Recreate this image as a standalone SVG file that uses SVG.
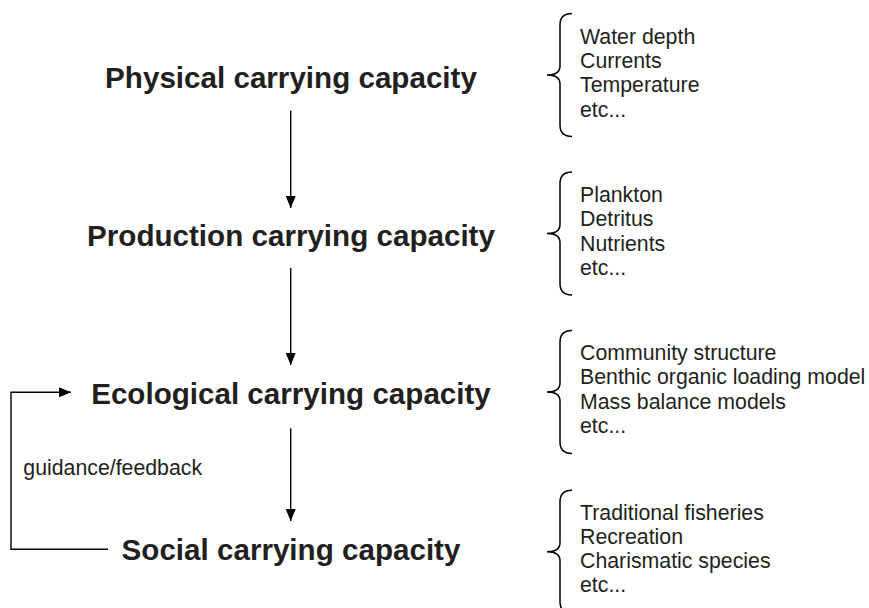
<svg xmlns="http://www.w3.org/2000/svg" xmlns:xlink="http://www.w3.org/1999/xlink" width="869" height="608" viewBox="0 0 869 608">
<style>
.title{font-family:"Liberation Sans",Arial,sans-serif;font-weight:bold;font-size:29.6px;fill:#231f20;text-anchor:middle}
.item{font-family:"Liberation Sans",Arial,sans-serif;font-size:21.3px;fill:#231f20}
.line{fill:none;stroke:#000;stroke-width:1.4}
.brace{fill:none;stroke:#000;stroke-width:1.5}
</style>
<defs>
<marker id="ah" markerWidth="12" markerHeight="10" refX="12" refY="5" orient="auto" markerUnits="userSpaceOnUse">
<path d="M0,0 L12,5 L0,10 Z" fill="#000"/>
</marker>
<path id="br" class="brace" d="M25,-61.5 Q13,-61.5 13,-50 L13,-9 Q13,0 0,0 Q13,0 13,9 L13,50 Q13,61.5 25,61.5"/>
</defs>
<rect width="869" height="608" fill="#fff"/>
<g id="connectors">
<line class="line" x1="290.7" y1="110.7" x2="290.7" y2="208" marker-end="url(#ah)"/>
<line class="line" x1="290.7" y1="268" x2="290.7" y2="365" marker-end="url(#ah)"/>
<line class="line" x1="290.7" y1="428.3" x2="290.7" y2="521" marker-end="url(#ah)"/>
<polyline class="line" points="108,549.3 11,549.3 11,392.3 71,392.3" marker-end="url(#ah)"/>
<text class="item" x="23.3" y="475">guidance/feedback</text>
</g>
<g id="physical">
<text class="title" x="291" y="88">Physical carrying capacity</text>
<use xlink:href="#br" x="547" y="75"/>
<text class="item" x="580" y="43.5">Water depth</text>
<text class="item" x="580" y="68">Currents</text>
<text class="item" x="580" y="92.3">Temperature</text>
<text class="item" x="580" y="116.7">etc...</text>
</g>
<g id="production">
<text class="title" x="291" y="245.5">Production carrying capacity</text>
<use xlink:href="#br" x="547" y="233.5"/>
<text class="item" x="580" y="201.8">Plankton</text>
<text class="item" x="580" y="226.2">Detritus</text>
<text class="item" x="580" y="250.6">Nutrients</text>
<text class="item" x="580" y="275">etc...</text>
</g>
<g id="ecological">
<text class="title" x="291" y="404">Ecological carrying capacity</text>
<use xlink:href="#br" x="547" y="392"/>
<text class="item" x="580" y="360">Community structure</text>
<text class="item" x="580" y="384.4">Benthic organic loading model</text>
<text class="item" x="580" y="408.8">Mass balance models</text>
<text class="item" x="580" y="433.2">etc...</text>
</g>
<g id="social">
<text class="title" x="291" y="559.5">Social carrying capacity</text>
<use xlink:href="#br" x="547" y="551.7"/>
<text class="item" x="580" y="519.5">Traditional fisheries</text>
<text class="item" x="580" y="543.5">Recreation</text>
<text class="item" x="580" y="567.5">Charismatic species</text>
<text class="item" x="580" y="591.7">etc...</text>
</g>
</svg>
